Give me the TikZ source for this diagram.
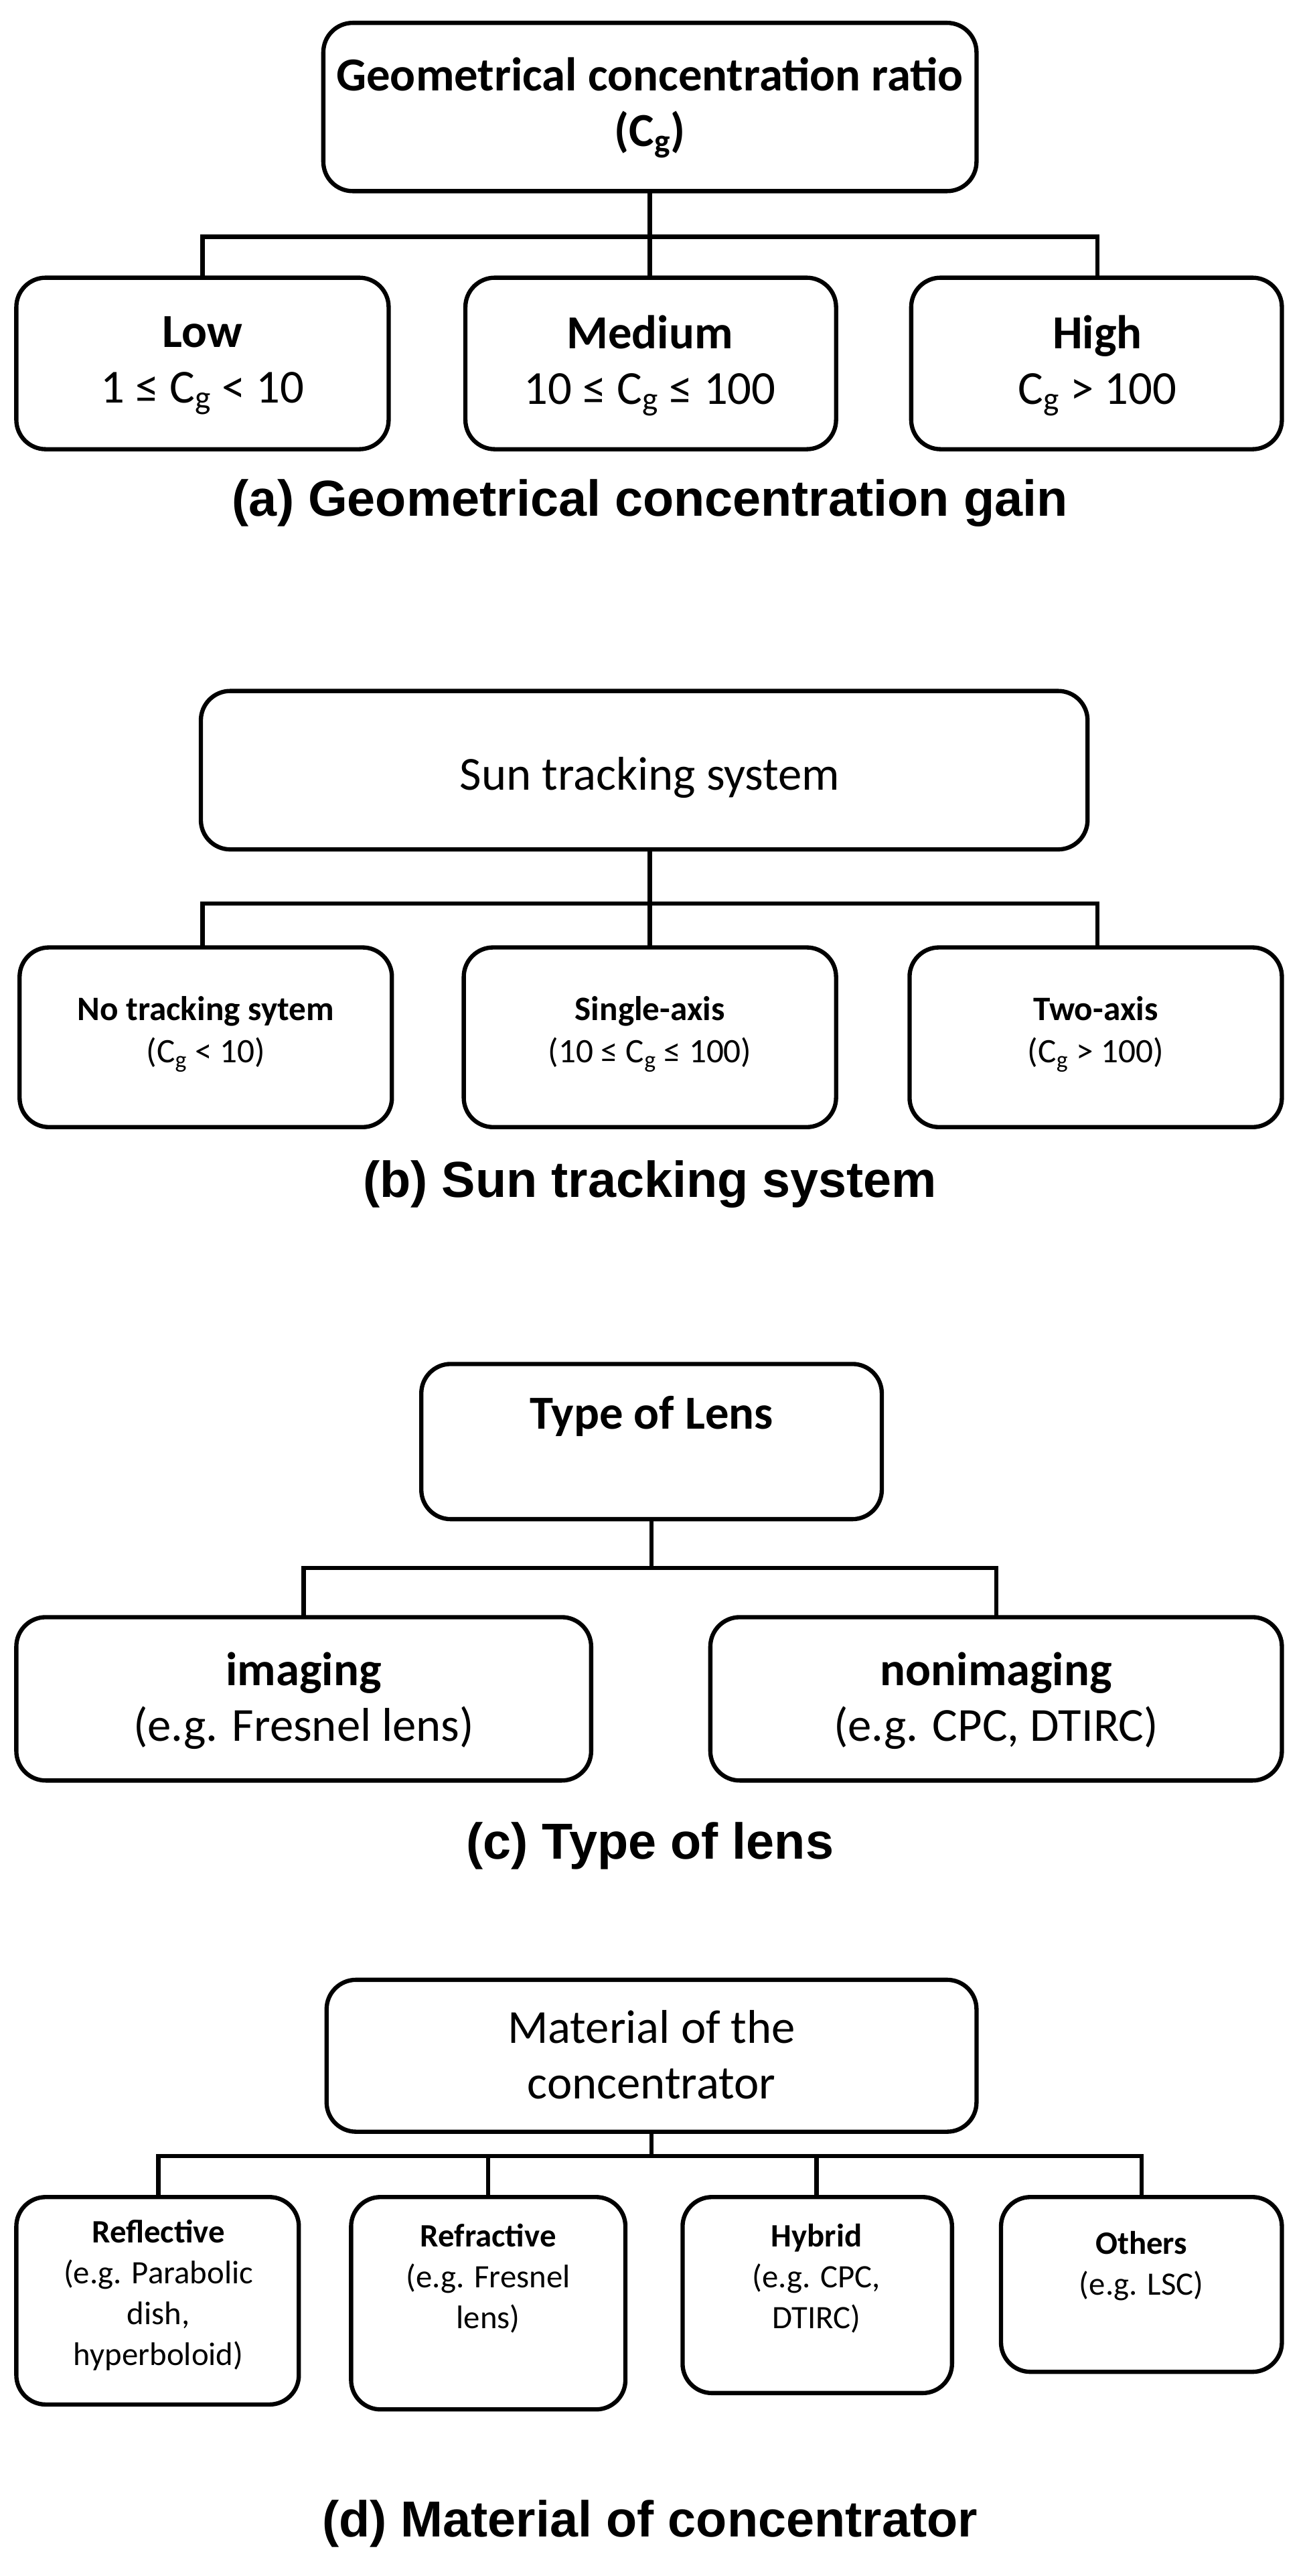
\documentclass[tikz,border=0pt]{standalone}
\usepackage{fontspec}
\setmainfont{Carlito}
\newfontfamily\capfont{Liberation Sans}
\begin{document}
\begin{tikzpicture}[x=1pt,y=-1pt,
  bx/.style={draw,line width=2.6pt,rounded corners=18pt},
  ln/.style={line width=2.6pt},
  captxt/.style={font=\capfont\bfseries\fontsize{31}{35}\selectfont},
  t/.style={font=\fontsize{29}{34}\selectfont,align=center},
  s/.style={font=\fontsize{21}{26}\selectfont,align=center},
  d/.style={font=\fontsize{20}{25}\selectfont,align=center}]
\useasboundingbox (0,0) rectangle (800,1577);
% (a)
\draw[bx] (198,14) rectangle (598,117);
\node[t] (a0) at (398,66) {\textbf{Geometrical concentration ratio}\\\textbf{(C\textsubscript{g})}};
\coordinate (aj) at (398,145);
\draw[bx] (10,170) rectangle (238,275); \node[t] (a1) at (124,224) {\textbf{Low}\\1 ≤ C\textsubscript{g} < 10};
\draw[bx] (285,170) rectangle (512,275); \node[t] (a2) at (398,224) {\textbf{Medium}\\10 ≤ C\textsubscript{g} ≤ 100};
\draw[bx] (558,170) rectangle (785,275); \node[t] (a3) at (672,224) {\textbf{High}\\C\textsubscript{g} > 100};
\draw[ln] (398,117)--(aj) (124,170)--(124,145)--(672,145)--(672,170) (398,145)--(398,170);
\node[captxt] (ac) at (398,308) {(a) Geometrical concentration gain};
% (b)
\draw[bx] (123,423) rectangle (666,520);
\node[t] (b0) at (398,476) {Sun tracking system};
\draw[bx] (12,580) rectangle (240,690); \node[s] (b1) at (126,633) {\textbf{No tracking sytem}\\(C\textsubscript{g} < 10)};
\draw[bx] (284,580) rectangle (512,690); \node[s] (b2) at (398,633) {\textbf{Single-axis}\\(10 ≤ C\textsubscript{g} ≤ 100)};
\draw[bx] (557,580) rectangle (785,690); \node[s] (b3) at (671,633) {\textbf{Two-axis}\\(C\textsubscript{g} > 100)};
\draw[ln] (398,520)--(398,580) (124,580)--(124,553)--(672,553)--(672,580);
\node[captxt] (bc) at (398,725) {(b) Sun tracking system};
% (c)
\draw[bx] (258,835) rectangle (540,930);
\node[t] (c0) at (399,867) {\textbf{Type of Lens}};
\draw[bx] (10,990) rectangle (362,1090); \node[t] (c1) at (186,1041) {\textbf{imaging}\\(e.g. Fresnel lens)};
\draw[bx] (435,990) rectangle (785,1090); \node[t] (c2) at (610,1041) {\textbf{nonimaging}\\(e.g. CPC, DTIRC)};
\draw[ln] (399,930)--(399,960) (186,990)--(186,960)--(610,960)--(610,990);
\node[captxt] (cc) at (398,1130) {(c) Type of lens};
% (d)
\draw[bx] (200,1212) rectangle (598,1305);
\node[t] (d0) at (399,1258) {Material of the\\concentrator};
\draw[bx] (10,1345) rectangle (183,1472); \node[d] (d1) at (97,1405) {\textbf{Reflective}\\(e.g. Parabolic\\dish,\\hyperboloid)};
\draw[bx] (215,1345) rectangle (383,1475); \node[d] (d2) at (299,1395) {\textbf{Refractive}\\(e.g. Fresnel\\lens)};
\draw[bx] (418,1345) rectangle (583,1465); \node[d] (d3) at (500,1395) {\textbf{Hybrid}\\(e.g. CPC,\\DTIRC)};
\draw[bx] (613,1345) rectangle (785,1452); \node[d] (d4) at (699,1387) {\textbf{Others}\\(e.g. LSC)};
\draw[ln] (399,1305)--(399,1320) (97,1345)--(97,1320)--(699,1320)--(699,1345) (500,1320)--(500,1345) (299,1320)--(299,1345);
\node[captxt] (dc) at (398,1545) {(d) Material of concentrator};
\end{tikzpicture}
\end{document}
